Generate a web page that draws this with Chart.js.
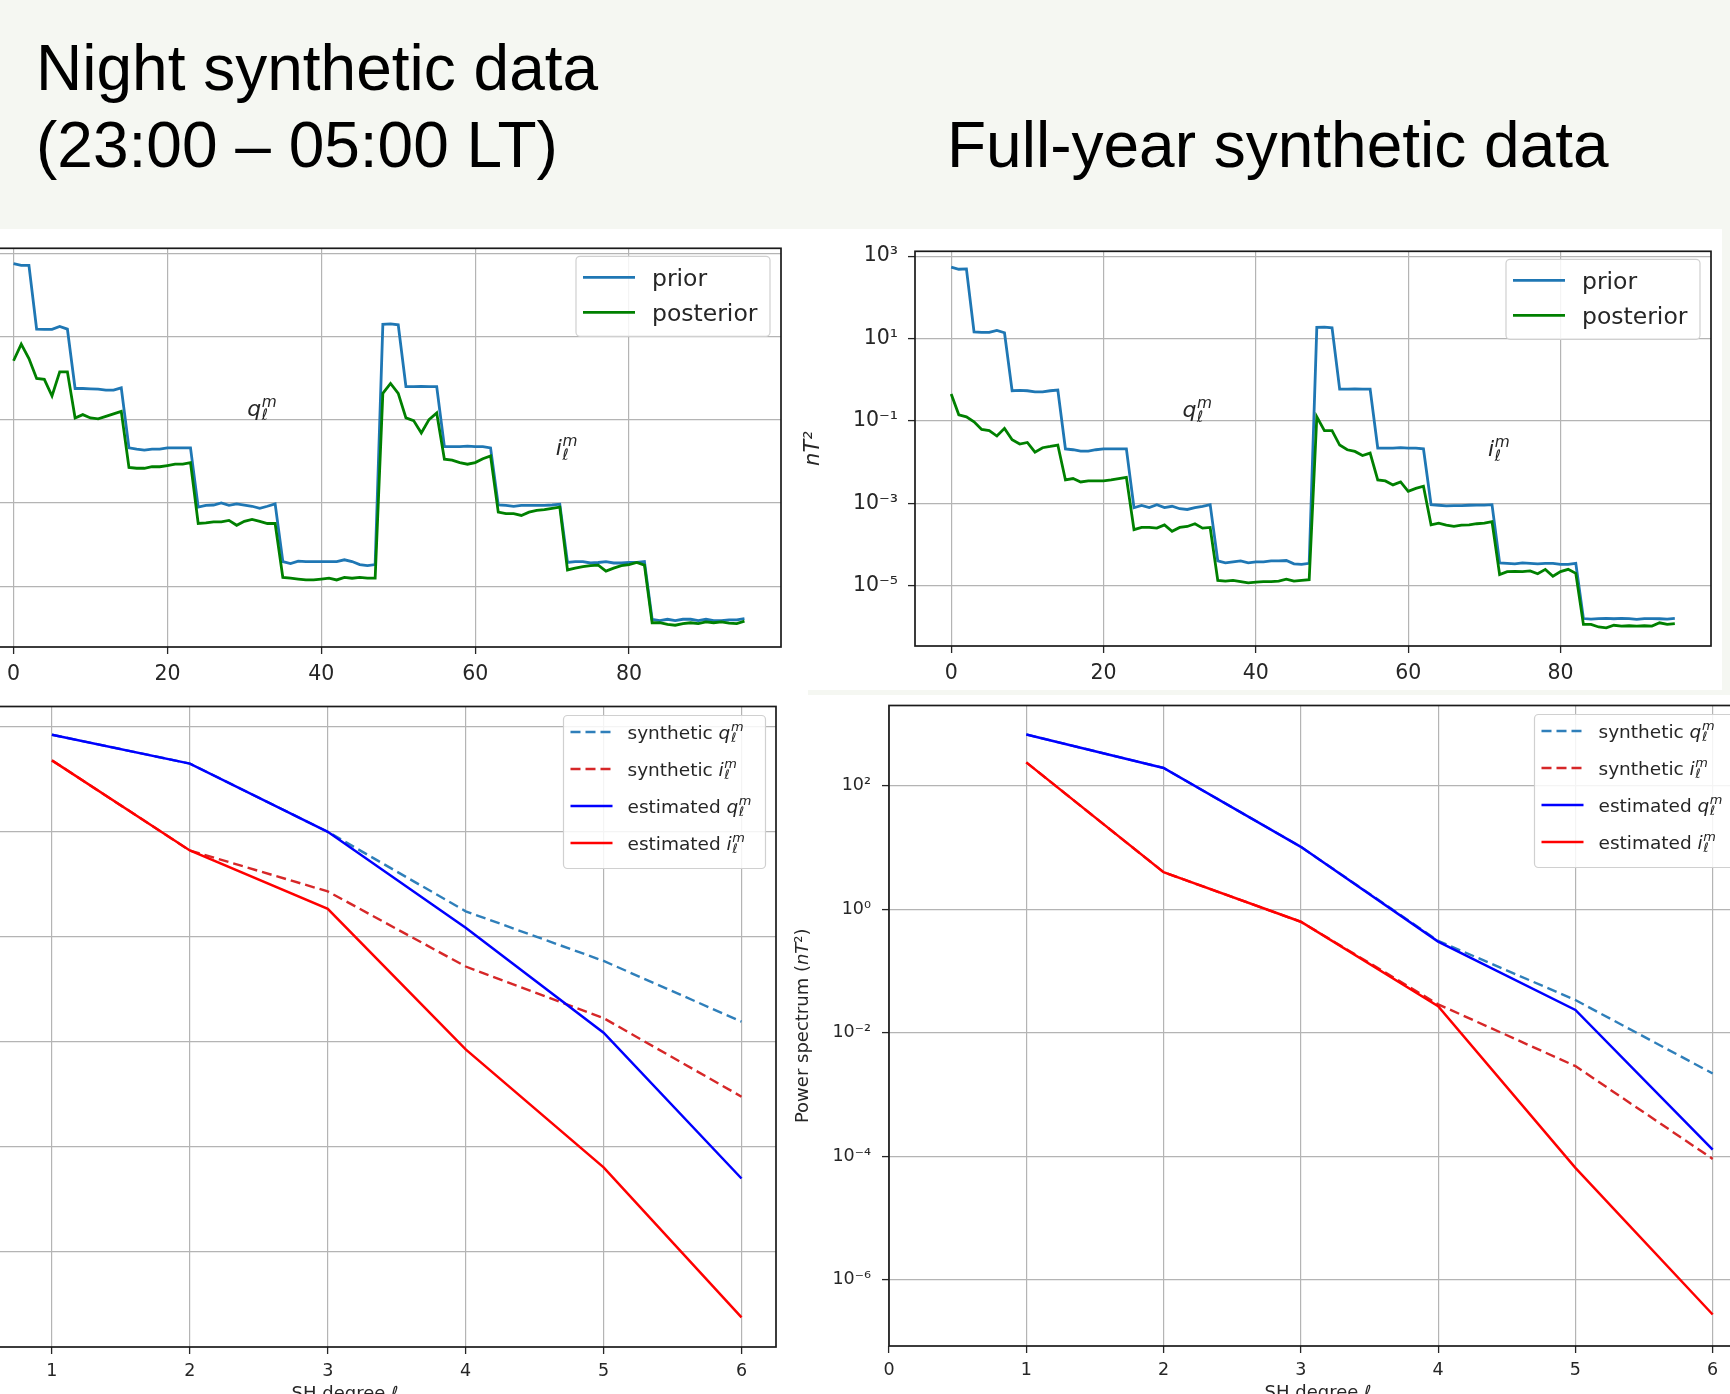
<!DOCTYPE html>
<html><head><meta charset="utf-8">
<script src="https://cdn.jsdelivr.net/npm/chart.js@4.4.0/dist/chart.umd.min.js"></script>
<style>
html,body{margin:0;padding:0;width:1730px;height:1394px;overflow:hidden;background:#fff;position:relative;}
#header{position:absolute;left:0;top:0;width:1730px;height:229px;background:#f5f7f2;}
.t{position:absolute;font-family:"Liberation Sans",Arial,sans-serif;font-size:64px;line-height:64px;color:#000;white-space:nowrap;}
#stripR{position:absolute;left:1722px;top:229px;width:8px;height:466px;background:#f5f7f2;}
#stripB{position:absolute;left:808px;top:690px;width:922px;height:5px;background:#f5f7f2;}
</style></head><body>
<div id="header"></div>
<div class="t" style="left:36px;top:36px;">Night synthetic data</div>
<div class="t" style="left:36px;top:113px;">(23:00 – 05:00 LT)</div>
<div class="t" style="left:947px;top:113px;">Full-year synthetic data</div>
<div id="stripR"></div>
<div id="stripB"></div>
<script>
// ---------------- DATA ----------------
// coefficient index (q: l=1..6 -> 48 coeffs, then i: 48 coeffs)
const coeffIndex = Array.from({length: 96}, (_, i) => i);

const priorNight = [
 5.6e2, 5.1e2, 5.1e2,
 1.5e1, 1.48e1, 1.48e1, 1.74e1, 1.5e1,
 5.6e-1, 5.6e-1, 5.5e-1, 5.4e-1, 5.1e-1, 5.1e-1, 5.8e-1,
 2.1e-2, 1.95e-2, 1.86e-2, 1.95e-2, 1.95e-2, 2.1e-2, 2.1e-2, 2.1e-2, 2.1e-2,
 7.9e-4, 8.7e-4, 8.9e-4, 1.0e-3, 8.7e-4, 9.5e-4, 8.9e-4, 8.3e-4, 7.4e-4, 8.3e-4, 9.5e-4,
 3.9e-5, 3.5e-5, 4.0e-5, 3.9e-5, 3.9e-5, 3.9e-5, 3.9e-5, 3.9e-5, 4.3e-5, 3.9e-5, 3.3e-5, 3.1e-5, 3.3e-5,
 1.95e1, 2.0e1, 1.9e1,
 6.2e-1, 6.2e-1, 6.3e-1, 6.2e-1, 6.2e-1,
 2.24e-2, 2.24e-2, 2.24e-2, 2.3e-2, 2.24e-2, 2.24e-2, 2.1e-2,
 8.9e-4, 8.7e-4, 8.3e-4, 8.7e-4, 8.7e-4, 8.7e-4, 8.7e-4, 8.9e-4, 9.3e-4,
 3.7e-5, 3.9e-5, 3.9e-5, 3.6e-5, 3.7e-5, 3.9e-5, 3.6e-5, 3.6e-5, 3.7e-5, 3.7e-5, 3.9e-5,
 1.6e-6, 1.48e-6, 1.6e-6, 1.48e-6, 1.6e-6, 1.6e-6, 1.48e-6, 1.6e-6, 1.48e-6, 1.48e-6, 1.55e-6, 1.55e-6, 1.66e-6
];
const posteriorNight = [
 2.6, 6.5, 2.95,
 0.98, 0.93, 0.37, 1.41, 1.41,
 0.11, 0.132, 0.11, 0.105, 0.12, 0.138, 0.158,
 7.1e-3, 6.8e-3, 6.8e-3, 7.4e-3, 7.4e-3, 7.9e-3, 8.5e-3, 8.5e-3, 9.3e-3,
 3.2e-4, 3.3e-4, 3.5e-4, 3.5e-4, 3.8e-4, 2.9e-4, 3.6e-4, 4.0e-4, 3.6e-4, 3.2e-4, 3.2e-4,
 1.62e-5, 1.55e-5, 1.48e-5, 1.41e-5, 1.41e-5, 1.48e-5, 1.55e-5, 1.41e-5, 1.62e-5, 1.55e-5, 1.62e-5, 1.55e-5, 1.55e-5,
 0.43, 0.74, 0.43,
 0.11, 0.095, 0.048, 0.10, 0.145,
 1.12e-2, 1.07e-2, 9.3e-3, 8.5e-3, 9.3e-3, 1.15e-2, 1.35e-2,
 6.0e-4, 5.5e-4, 5.5e-4, 5.0e-4, 6.0e-4, 6.6e-4, 6.9e-4, 7.4e-4, 7.9e-4,
 2.45e-5, 2.7e-5, 2.95e-5, 3.1e-5, 3.2e-5, 2.3e-5, 2.7e-5, 3.1e-5, 3.3e-5, 3.7e-5, 3.2e-5,
 1.32e-6, 1.32e-6, 1.2e-6, 1.15e-6, 1.26e-6, 1.32e-6, 1.26e-6, 1.38e-6, 1.32e-6, 1.38e-6, 1.29e-6, 1.26e-6, 1.45e-6
];
const priorFull = [
 5.4e2, 4.8e2, 4.9e2,
 1.45e1, 1.41e1, 1.41e1, 1.58e1, 1.38e1,
 5.4e-1, 5.5e-1, 5.4e-1, 5.1e-1, 5.1e-1, 5.4e-1, 5.6e-1,
 2.1e-2, 2.0e-2, 1.86e-2, 1.86e-2, 2.0e-2, 2.1e-2, 2.1e-2, 2.1e-2, 2.1e-2,
 7.8e-4, 8.9e-4, 7.9e-4, 9.3e-4, 7.9e-4, 8.5e-4, 7.4e-4, 7.1e-4, 7.9e-4, 8.5e-4, 9.3e-4,
 4.0e-5, 3.6e-5, 3.8e-5, 4.0e-5, 3.6e-5, 3.8e-5, 3.8e-5, 4.0e-5, 4.0e-5, 4.1e-5, 3.4e-5, 3.3e-5, 3.5e-5,
 1.86e1, 1.9e1, 1.82e1,
 5.9e-1, 5.9e-1, 6.0e-1, 5.9e-1, 5.9e-1,
 2.2e-2, 2.2e-2, 2.2e-2, 2.25e-2, 2.2e-2, 2.2e-2, 2.1e-2,
 9.3e-4, 9.0e-4, 8.7e-4, 8.8e-4, 8.8e-4, 9.0e-4, 9.1e-4, 9.1e-4, 9.3e-4,
 3.6e-5, 3.5e-5, 3.4e-5, 3.6e-5, 3.5e-5, 3.4e-5, 3.5e-5, 3.5e-5, 3.3e-5, 3.3e-5, 3.5e-5,
 1.6e-6, 1.55e-6, 1.6e-6, 1.62e-6, 1.58e-6, 1.62e-6, 1.6e-6, 1.53e-6, 1.6e-6, 1.6e-6, 1.58e-6, 1.55e-6, 1.62e-6
];
const posteriorFull = [
 0.45, 0.141, 0.126,
 0.095, 0.062, 0.058, 0.043, 0.066,
 0.035, 0.0275, 0.030, 0.0174, 0.0224, 0.024, 0.026,
 3.7e-3, 4.0e-3, 3.3e-3, 3.5e-3, 3.5e-3, 3.5e-3, 3.7e-3, 4.0e-3, 4.3e-3,
 2.3e-4, 2.6e-4, 2.6e-4, 2.5e-4, 3.0e-4, 2.1e-4, 2.6e-4, 2.75e-4, 3.2e-4, 2.5e-4, 2.6e-4,
 1.35e-5, 1.29e-5, 1.35e-5, 1.26e-5, 1.17e-5, 1.23e-5, 1.26e-5, 1.26e-5, 1.29e-5, 1.45e-5, 1.29e-5, 1.35e-5, 1.41e-5,
 0.126, 0.058, 0.058,
 0.026, 0.020, 0.0182, 0.0145, 0.0166,
 3.7e-3, 3.5e-3, 2.8e-3, 3.3e-3, 1.95e-3, 2.3e-3, 2.6e-3,
 3.0e-4, 3.3e-4, 2.95e-4, 2.75e-4, 2.95e-4, 3.0e-4, 3.2e-4, 3.3e-4, 3.6e-4,
 1.86e-5, 2.2e-5, 2.24e-5, 2.2e-5, 2.3e-5, 1.95e-5, 2.5e-5, 1.7e-5, 2.2e-5, 2.5e-5, 2.0e-5,
 1.15e-6, 1.15e-6, 1.0e-6, 9.5e-7, 1.1e-6, 1.05e-6, 1.07e-6, 1.05e-6, 1.07e-6, 1.05e-6, 1.26e-6, 1.15e-6, 1.2e-6
];

const degrees = [1, 2, 3, 4, 5, 6];
const synQNight = [7.1e2, 2.0e2, 1.0e1, 3.05e-1, 3.45e-2, 2.4e-3];
const synINight = [2.3e2, 4.4, 7.3e-1, 2.7e-2, 2.8e-3, 8.9e-5];
const estQNight = [7.1e2, 2.0e2, 1.0e1, 1.48e-1, 1.48e-3, 2.45e-6];
const estINight = [2.3e2, 4.4, 3.4e-1, 7.1e-4, 4.0e-6, 5.5e-9];
const synQFull = [6.8e2, 1.95e2, 1.03e1, 3.1e-1, 3.4e-2, 2.2e-3];
const synIFull = [2.4e2, 4.0, 6.3e-1, 2.9e-2, 2.9e-3, 9.1e-5];
const estQFull = [6.8e2, 1.95e2, 1.03e1, 3.0e-1, 2.35e-2, 1.29e-4];
const estIFull = [2.4e2, 4.0, 6.3e-1, 2.7e-2, 6.5e-5, 2.75e-7];

const topXTicks = [0, 20, 40, 60, 80];
const topYTicks = [1e3, 1e1, 1e-1, 1e-3, 1e-5];
const botXTicks = [0, 1, 2, 3, 4, 5, 6];
const nightSpecYTicks = [1e3, 1e1, 1e-1, 1e-3, 1e-5, 1e-7];
const fullSpecYTicks = [1e2, 1e0, 1e-2, 1e-4, 1e-6];

// text labels q_l^m / i_l^m placed in data units
const annotSym = ['q', 'i'];
const annotX = [32.3, 71.9];
const annotY = [1.66e-1, 1.9e-2];

// ---------------- HELPERS ----------------
const FONT = '"DejaVu Sans", sans-serif';
const TXT = '#262626';
const SUP = {'-':'⁻','0':'⁰','1':'¹','2':'²','3':'³','4':'⁴','5':'⁵','6':'⁶','7':'⁷','8':'⁸','9':'⁹'};
function pow10Label(v) {
  const e = Math.round(Math.log10(v));
  return '10' + String(e).split('').map(c => SUP[c]).join('');
}
function drawMath(ctx, x, y, sym, size, color) {
  ctx.save();
  ctx.fillStyle = color; ctx.textAlign = 'left'; ctx.textBaseline = 'alphabetic';
  ctx.font = `italic ${size}px ${FONT}`;
  ctx.fillText(sym, x, y);
  const w = ctx.measureText(sym).width;
  const s = size * 0.7;
  ctx.font = `italic ${s}px ${FONT}`;
  const xs = x + w + size * 0.03;
  ctx.fillText('m', xs, y - size * 0.42);
  ctx.fillText('ℓ', xs, y + size * 0.2);
  const w2 = Math.max(ctx.measureText('m').width, ctx.measureText('ℓ').width);
  ctx.restore();
  return w + size * 0.03 + w2;
}
function mathWidth(ctx, sym, size) {
  ctx.save();
  ctx.font = `italic ${size}px ${FONT}`;
  const w = ctx.measureText(sym).width;
  ctx.font = `italic ${size * 0.7}px ${FONT}`;
  const w2 = Math.max(ctx.measureText('m').width, ctx.measureText('ℓ').width);
  ctx.restore();
  return w + size * 0.03 + w2;
}
function drawParts(ctx, parts, x, y, size) {
  let cx = x;
  parts.forEach(p => {
    ctx.font = `${p.it ? 'italic ' : ''}${size}px ${FONT}`;
    ctx.fillText(p.t, cx, y);
    cx += ctx.measureText(p.t).width;
  });
  return cx - x;
}
function partsWidth(ctx, parts, size) {
  let w = 0;
  parts.forEach(p => { ctx.font = `${p.it ? 'italic ' : ''}${size}px ${FONT}`; w += ctx.measureText(p.t).width; });
  return w;
}

const decorPlugin = {
  id: 'decor',
  afterDraw(chart, args, o) {
    const {ctx, chartArea: a} = chart;
    ctx.save();
    ctx.strokeStyle = '#1a1a1a'; ctx.lineWidth = 1.7; ctx.setLineDash([]);
    ctx.strokeRect(a.left, a.top, a.right - a.left, a.bottom - a.top);
    ctx.fillStyle = TXT;
    if (o.annot) {
      const xs = chart.scales.x, ys = chart.scales.y;
      annotSym.forEach((s, k) => {
        const px = xs.getPixelForValue(annotX[k]), py = ys.getPixelForValue(annotY[k]);
        const w = mathWidth(ctx, s, o.annot.size);
        drawMath(ctx, px - w / 2, py + o.annot.size * 0.25, s, o.annot.size, TXT);
      });
    }
    if (o.ytitle) {
      const t = o.ytitle;
      ctx.save();
      ctx.translate(a.left - t.dx, (a.top + a.bottom) / 2);
      ctx.rotate(-Math.PI / 2);
      ctx.textBaseline = 'middle'; ctx.textAlign = 'left';
      ctx.fillStyle = TXT;
      const w = partsWidth(ctx, t.parts, t.size);
      drawParts(ctx, t.parts, -w / 2, 0, t.size);
      ctx.restore();
    }
    if (o.xtitle) {
      const t = o.xtitle;
      ctx.textBaseline = 'top'; ctx.textAlign = 'left';
      const w = partsWidth(ctx, t.parts, t.size);
      drawParts(ctx, t.parts, (a.left + a.right) / 2 - w / 2, a.bottom + t.dy, t.size);
    }
    if (o.legend) {
      const L = o.legend;
      const x0 = a.right - L.right - L.width, y0 = a.top + L.top;
      ctx.beginPath();
      if (ctx.roundRect) ctx.roundRect(x0, y0, L.width, L.height, 4); else ctx.rect(x0, y0, L.width, L.height);
      ctx.fillStyle = 'rgba(255,255,255,0.85)'; ctx.fill();
      ctx.strokeStyle = '#d0d0d0'; ctx.lineWidth = 1.2; ctx.stroke();
      L.items.forEach((di, k) => {
        const ds = chart.data.datasets[di];
        const yy = y0 + L.first + k * L.rowH;
        ctx.beginPath();
        ctx.setLineDash(ds.borderDash || []);
        ctx.strokeStyle = ds.borderColor; ctx.lineWidth = ds.borderWidth;
        ctx.moveTo(x0 + L.hx, yy); ctx.lineTo(x0 + L.hx + L.hlen, yy); ctx.stroke();
        ctx.setLineDash([]);
        ctx.fillStyle = TXT; ctx.textBaseline = 'alphabetic'; ctx.textAlign = 'left';
        ctx.font = `${L.font}px ${FONT}`;
        const tx = x0 + L.hx + L.hlen + L.gap, by = yy + L.font * 0.36;
        ctx.fillText(ds.labelText, tx, by);
        if (ds.labelSym) drawMath(ctx, tx + ctx.measureText(ds.labelText).width, by, ds.labelSym, L.font, TXT);
      });
    }
    ctx.restore();
  }
};

function xScale(min, max, ticks, size, pad) {
  return {
    type: 'linear', min, max,
    afterBuildTicks: s => { s.ticks = ticks.map(v => ({value: v})); },
    ticks: {font: {family: FONT, size}, color: TXT, padding: pad, maxRotation: 0, autoSkip: false, callback: v => String(v)},
    grid: {color: '#b4b4b4', lineWidth: 1.2, tickColor: '#262626', tickLength: 7, tickWidth: 1.3, drawTicks: true},
    border: {display: false}
  };
}
function yScale(min, max, ticks, size, pad) {
  return {
    type: 'logarithmic', min, max,
    afterBuildTicks: s => { s.ticks = ticks.map(v => ({value: v})); },
    ticks: {font: {family: FONT, size}, color: TXT, padding: pad, autoSkip: false, callback: v => pow10Label(v)},
    grid: {color: '#b4b4b4', lineWidth: 1.2, tickColor: '#262626', tickLength: 7, tickWidth: 1.3, drawTicks: true},
    border: {display: false}
  };
}

function makeChart(box, cfg) {
  const {area, yw, xh, padL, padT, padR, padB} = box;
  const cx = area.l - yw - padL, cy = area.t - padT;
  const cw = area.r + padR - cx, ch = area.b + xh + padB - cy;
  const cv = document.createElement('canvas');
  cv.width = cw; cv.height = ch;
  cv.style.cssText = `position:absolute;left:${cx}px;top:${cy}px;width:${cw}px;height:${ch}px;`;
  document.body.appendChild(cv);
  cfg.options.layout = {padding: {left: padL, top: padT, right: padR, bottom: padB}};
  cfg.options.scales.x.afterFit = s => { s.height = xh; };
  cfg.options.scales.y.afterFit = s => { s.width = yw; };
  cfg.options.responsive = false;
  cfg.options.animation = false;
  cfg.options.devicePixelRatio = 1;
  cfg.options.events = [];
  cfg.options.plugins = Object.assign({legend: {display: false}, tooltip: {enabled: false}}, cfg.options.plugins);
  cfg.plugins = [decorPlugin];
  return new Chart(cv, cfg);
}

function pts(xs, ys) { return ys.map((y, i) => ({x: xs[i], y})); }

function topChart(area, yw, prior, post, ytitle) {
  return makeChart({area, yw, xh: 50, padL: 8, padT: 20, padR: 11, padB: 4}, {
    type: 'line',
    data: {datasets: [
      {label: 'prior', labelText: 'prior', data: pts(coeffIndex, prior), borderColor: '#1f77b4', borderWidth: 2.8, pointRadius: 0, tension: 0, order: 1},
      {label: 'posterior', labelText: 'posterior', data: pts(coeffIndex, post), borderColor: '#008000', borderWidth: 2.8, pointRadius: 0, tension: 0, order: 0}
    ]},
    options: {
      scales: {x: xScale(-4.75, 99.75, topXTicks, 20.5, 8), y: yScale(3.45e-7, 1.31e3, topYTicks, 20.5, 10)},
      plugins: {decor: {
        annot: {size: 22},
        ytitle: ytitle,
        legend: {right: 11, top: 8, width: 194, height: 80, first: 21, rowH: 35, hx: 7, hlen: 52, gap: 17, font: 23.5, items: [0, 1]}
      }}
    }
  });
}

function bottomChart(area, yw, ymin, ymax, yticks, sq, si, eq, ei, ytitle) {
  return makeChart({area, yw, xh: 60, padL: 8, padT: 20, padR: 10, padB: 5}, {
    type: 'line',
    data: {datasets: [
      {label: 'synthetic q', labelText: 'synthetic ', labelSym: 'q', data: pts(degrees, sq), borderColor: '#2f7fba', borderWidth: 2.4, borderDash: [10, 5], pointRadius: 0, tension: 0, order: 2},
      {label: 'synthetic i', labelText: 'synthetic ', labelSym: 'i', data: pts(degrees, si), borderColor: '#d62728', borderWidth: 2.4, borderDash: [10, 5], pointRadius: 0, tension: 0, order: 2},
      {label: 'estimated q', labelText: 'estimated ', labelSym: 'q', data: pts(degrees, eq), borderColor: '#0000ff', borderWidth: 2.5, pointRadius: 0, tension: 0, order: 1},
      {label: 'estimated i', labelText: 'estimated ', labelSym: 'i', data: pts(degrees, ei), borderColor: '#ff0000', borderWidth: 2.5, pointRadius: 0, tension: 0, order: 0}
    ]},
    options: {
      scales: {x: xScale(0, 6.25, botXTicks, 17.5, 7), y: yScale(ymin, ymax, yticks, 17.5, 11)},
      plugins: {decor: {
        xtitle: {parts: [{t: 'SH degree '}, {t: 'ℓ', it: true}], size: 18, dy: 38},
        ytitle: ytitle,
        legend: {right: 10.5, top: 9, width: 202, height: 153, first: 16.5, rowH: 37, hx: 7, hlen: 42, gap: 15, font: 18.5, items: [0, 1, 2, 3]}
      }}
    }
  });
}

// ---------------- CHARTS ----------------
topChart({l: -23, t: 246, r: 781, b: 647}, 60, priorNight, posteriorNight, null);
topChart({l: 915, t: 249, r: 1711, b: 646}, 118, priorFull, posteriorFull,
  {parts: [{t: 'nT', it: true}, {t: '²', it: true}], size: 21, dx: 101});
bottomChart({l: -86, t: 705, r: 776, b: 1347}, 60, 1.5e-9, 2.45e3, nightSpecYTicks,
  synQNight, synINight, estQNight, estINight, null);
bottomChart({l: 889, t: 704, r: 1747, b: 1346}, 110, 8.5e-8, 2.0e3, fullSpecYTicks,
  synQFull, synIFull, estQFull, estIFull,
  {parts: [{t: 'Power spectrum ('}, {t: 'nT', it: true}, {t: '²'}, {t: ')'}], size: 18, dx: 86});
</script>
</body></html>
